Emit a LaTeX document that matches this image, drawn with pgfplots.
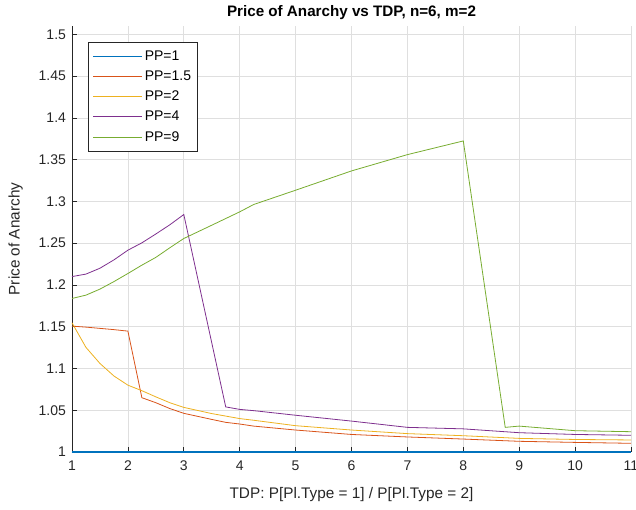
\documentclass[border=0pt]{standalone}
\usepackage{pgfplots}
\pgfplotsset{compat=1.18}
\usepackage{fontspec}
\setmainfont{Liberation Sans}
\definecolor{c1}{rgb}{0,0.447,0.741}
\definecolor{c2}{rgb}{0.85,0.325,0.098}
\definecolor{c3}{rgb}{0.929,0.694,0.125}
\definecolor{c4}{rgb}{0.494,0.184,0.556}
\definecolor{c5}{rgb}{0.466,0.674,0.188}
\definecolor{axgray}{gray}{0.15}
\definecolor{gridgray}{gray}{0.875}
\begin{document}
\begin{tikzpicture}
\begin{axis}[
  at={(0,0)}, anchor=south west,
  scale only axis, width=419.25pt, height=319.5pt,
  xmin=1, xmax=11, ymin=1, ymax=1.51,
  clip=false,
  axis x line*=bottom, axis y line*=left,
  xtick={1,2,...,11},
  ytick={1,1.05,1.1,1.15,1.2,1.25,1.3,1.35,1.4,1.45,1.5},
  yticklabels={1,1.05,1.1,1.15,1.2,1.25,1.3,1.35,1.4,1.45,1.5},
  xticklabels={1,2,3,4,5,6,7,8,9,10,11},
  tick align=inside, major tick length=4pt,
  tick style={axgray, line width=0.5pt},
  axis line style={axgray, line width=0.5pt, -},
  grid=major, major grid style={gridgray, line width=0.5pt},
  ticklabel style={font=\fontsize{10.5}{12}\selectfont, text=axgray},
  xticklabel style={yshift=-3pt},
  yticklabel style={xshift=-1pt},
  title={\bfseries Price of Anarchy vs TDP, n=6, m=2},
  title style={font=\fontsize{11.4}{13}\selectfont, yshift=-5pt},
  xlabel={TDP: P[Pl.Type = 1] / P[Pl.Type = 2]},
  ylabel={Price of Anarchy},
  label style={font=\fontsize{11.5}{13}\selectfont, text=axgray},
  xlabel style={yshift=-5.5pt},
  ylabel style={yshift=5pt},
  legend style={at={(0.029,0.962)}, anchor=north west, draw=axgray, line width=0.5pt,
    font=\fontsize{10.5}{12}\selectfont, row sep=2.4pt, inner xsep=3pt, inner ysep=4pt},
  legend cell align=left,
  legend image code/.code={\draw[#1, line width=0.75pt] (0cm,0cm) -- (1.28cm,0cm);},
  every axis plot/.append style={line width=0.6pt},
]
\addplot[c1, line width=1.3pt] coordinates {(1,1) (11,1)};
\addlegendentry{PP=1}
\addplot[c2] coordinates {(1,1.1507) (1.25,1.1495) (1.5,1.148) (1.75,1.1465) (2,1.1447) (2.25,1.065) (2.5,1.059) (2.75,1.052) (3,1.0463) (3.5,1.039) (3.75,1.0355) (4,1.0335) (4.25,1.031) (5,1.0263) (6,1.021) (7,1.018) (8,1.0155) (9,1.0128) (10,1.0115) (11,1.0104)};
\addlegendentry{PP=1.5}
\addplot[c3] coordinates {(1,1.1547) (1.25,1.1252) (1.5,1.106) (1.75,1.091) (2,1.080) (2.25,1.0734) (2.5,1.066) (2.75,1.059) (3,1.0534) (3.5,1.046) (4,1.040) (4.25,1.038) (5,1.0315) (6,1.0263) (7,1.022) (8,1.0195) (9,1.0163) (10,1.015) (11,1.0144)};
\addlegendentry{PP=2}
\addplot[c4] coordinates {(1,1.210) (1.25,1.213) (1.5,1.220) (1.75,1.230) (2,1.2416) (2.25,1.2504) (2.5,1.261) (2.75,1.272) (3,1.2843) (3.75,1.054) (4,1.051) (4.25,1.0495) (5,1.044) (6,1.037) (7,1.0295) (8,1.0277) (9,1.0231) (10,1.021) (11,1.020)};
\addlegendentry{PP=4}
\addplot[c5] coordinates {(1,1.1838) (1.25,1.1878) (1.5,1.195) (1.75,1.204) (2,1.2137) (2.25,1.2237) (2.5,1.233) (2.75,1.2445) (3,1.2556) (3.5,1.2715) (4,1.2875) (4.25,1.2963) (5,1.3134) (6,1.3365) (7,1.356) (8,1.3724) (8.75,1.0295) (9,1.031) (10,1.0255) (11,1.0243)};
\addlegendentry{PP=9}
\end{axis}
\pgfresetboundingbox
\path (-54pt,-43.5pt) rectangle (423pt,339pt);
\end{tikzpicture}
\end{document}
